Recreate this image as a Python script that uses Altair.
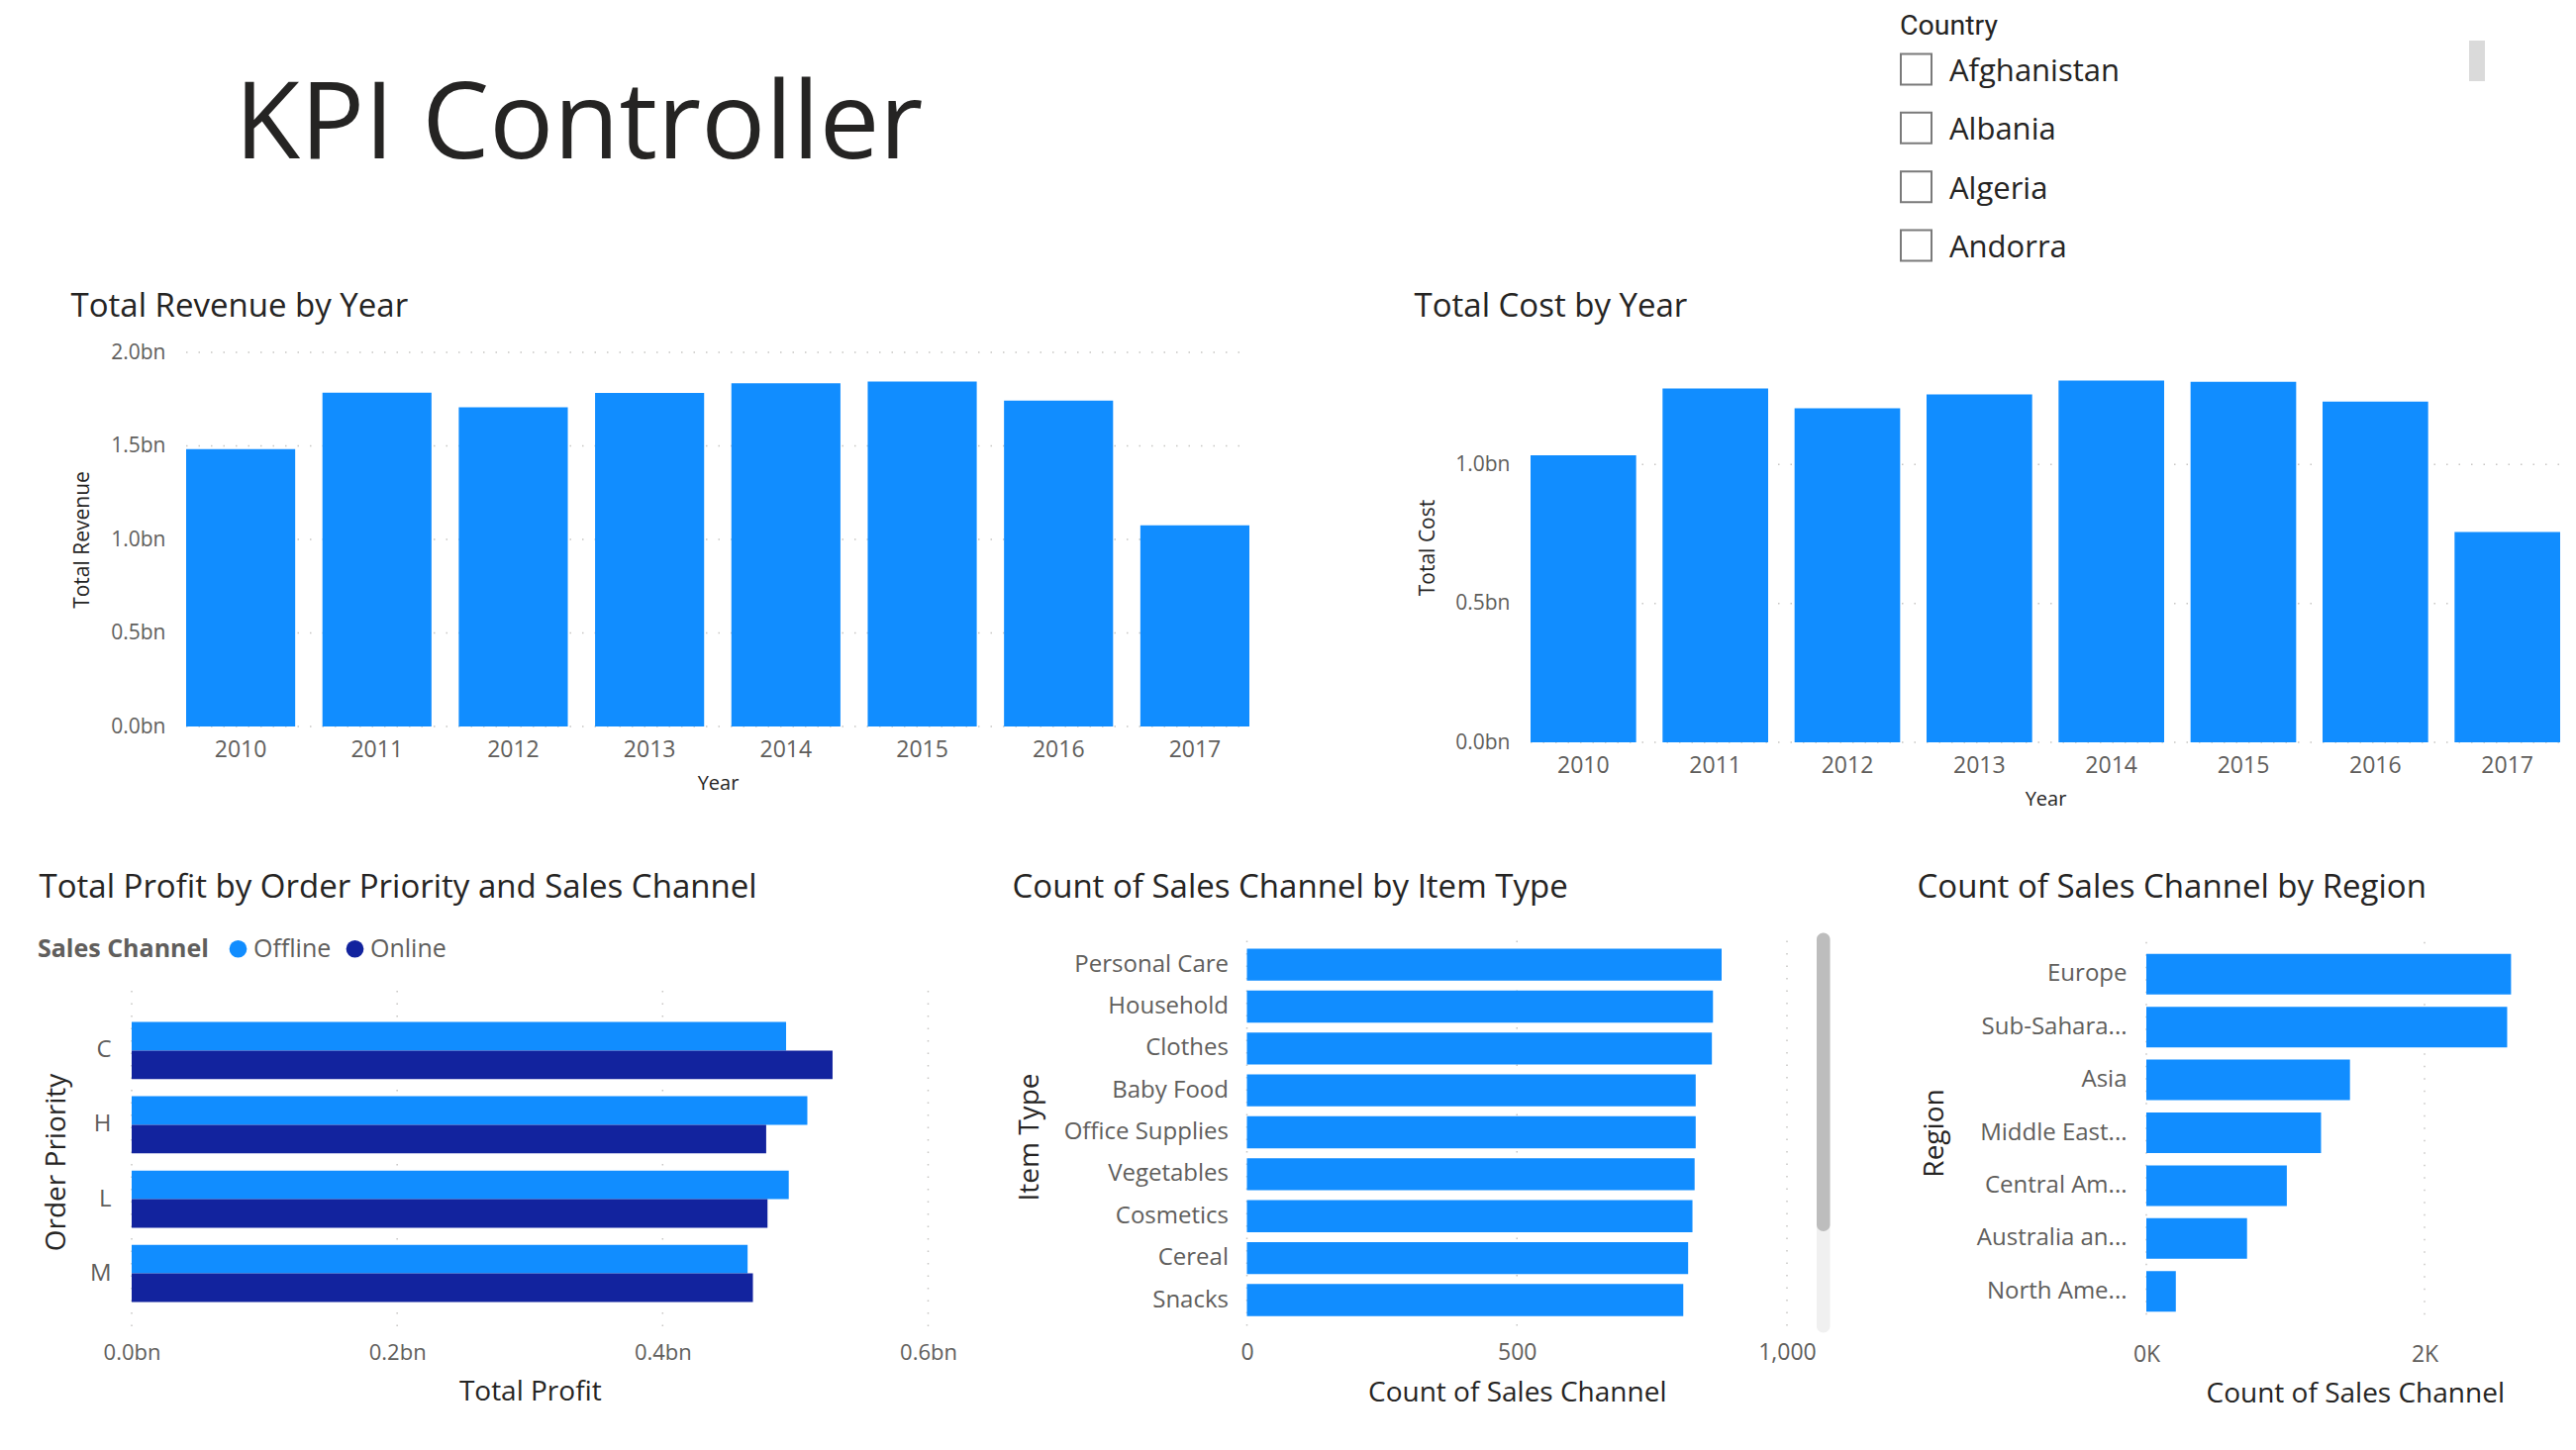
import altair as alt
import pandas as pd

SEG = "Open Sans"
DIN = "Open Sans"
DARK = "#252423"
GRAY = "#605E5C"
BLUE = "#118DFF"
NAVY = "#12239E"
GRID = "#C8C6C4"
W, H = 2586, 1449

# ---------------- data ----------------
years = ["2010", "2011", "2012", "2013", "2014", "2015", "2016", "2017"]
revenue_bn = [1.483, 1.785, 1.706, 1.783, 1.835, 1.844, 1.742, 1.075]
cost_bn = [1.033, 1.274, 1.202, 1.252, 1.302, 1.298, 1.226, 0.757]
revenue_ticks = [0, 0.5, 1.0, 1.5, 2.0]
cost_ticks = [0, 0.5, 1.0]

priorities = ["C", "H", "L", "M"]
channels = ["Offline", "Online"]
profit_offline_bn = [0.493, 0.509, 0.495, 0.464]
profit_online_bn = [0.528, 0.478, 0.479, 0.468]
profit_ticks = [0, 0.2, 0.4, 0.6]

item_types = ["Personal Care", "Household", "Clothes", "Baby Food", "Office Supplies",
              "Vegetables", "Cosmetics", "Cereal", "Snacks"]
item_counts = [879, 863, 861, 831, 831, 829, 825, 817, 808]
item_ticks = [0, 500, 1000]

regions = ["Europe", "Sub-Sahara...", "Asia", "Middle East...", "Central Am...",
           "Australia an...", "North Ame..."]
region_counts = [2622, 2594, 1464, 1256, 1010, 724, 212]
region_ticks = [0, 2000]

countries = ["Afghanistan", "Albania", "Algeria", "Andorra"]

rev_df = pd.DataFrame({"Year": years, "Total Revenue": revenue_bn})
cost_df = pd.DataFrame({"Year": years, "Total Cost": cost_bn})
profit_df = pd.DataFrame({
    "Order Priority": priorities * 2,
    "Sales Channel": ["Offline"] * 4 + ["Online"] * 4,
    "Total Profit": profit_offline_bn + profit_online_bn,
})
item_df = pd.DataFrame({"Item Type": item_types, "Count of Sales Channel": item_counts})
region_df = pd.DataFrame({"Region": regions, "Count of Sales Channel": region_counts})
country_df = pd.DataFrame({"Country": countries})
one = pd.DataFrame({"k": [0]})

NO_LINE = dict(domain=False, ticks=False, tickSize=0, grid=False)
RULE = dict(color=GRID, strokeDash=[1.5, 11], strokeWidth=1.5)


def text_at(text, x, y, font, size, color=DARK, weight="normal"):
    return alt.Chart(one).mark_text(
        text=text, align="left", baseline="alphabetic", font=font, fontSize=size,
        fontWeight=weight, color=color).encode(x=alt.value(x), y=alt.value(y))


def bn_y_axis(title, left, title_x, values):
    return alt.Axis(orient="left", title=title, values=values, offset=-left,
                    labelExpr="format(datum.value, '.1f') + 'bn'",
                    labelPadding=21, labelFont=SEG, labelFontSize=21, labelColor=GRAY,
                    labelFlush=False,
                    titleFont=SEG, titleFontSize=21, titleFontWeight="normal",
                    titleColor=DARK, titleX=title_x, titleBaseline="alphabetic",
                    **NO_LINE)


def year_axis(bottom, title_y, pad):
    return alt.Axis(orient="bottom", title="Year", labelAngle=0, offset=bottom - H,
                    labelPadding=pad, labelBaseline="alphabetic",
                    labelFont=SEG, labelFontSize=23, labelColor=GRAY,
                    titleFont=DIN, titleFontSize=20, titleFontWeight="normal",
                    titleColor=DARK, titleY=title_y, titleBaseline="alphabetic",
                    **NO_LINE)


def cat_y_axis(title, left, title_x, pad, size):
    return alt.Axis(orient="left", title=title, offset=-left, labelPadding=pad,
                    labelFont=SEG, labelFontSize=size, labelColor=GRAY,
                    labelLimit=300, titleFont=SEG, titleFontSize=28,
                    titleFontWeight="normal", titleColor=DARK, titleX=title_x,
                    titleBaseline="alphabetic", **NO_LINE)


def val_x_axis(title, values, bottom, pad, title_y, size, label_expr, title_size=28):
    return alt.Axis(orient="bottom", title=title, values=values, offset=bottom - H,
                    labelPadding=pad, labelBaseline="alphabetic", labelFont=SEG,
                    labelFontSize=size, labelColor=GRAY, labelExpr=label_expr,
                    labelFlush=False, labelOverlap=False,
                    titleFont=DIN, titleFontSize=title_size, titleFontWeight="normal",
                    titleColor=DARK, titleY=title_y, titleBaseline="alphabetic",
                    **NO_LINE)


def h_grid(field, ticks, scale, axis, x0, x1):
    return alt.Chart(pd.DataFrame({field: ticks})).mark_rule(**RULE).encode(
        y=alt.Y(f"{field}:Q", scale=scale, axis=axis),
        x=alt.value(x0), x2=alt.value(x1))


def v_grid(field, ticks, scale, axis, y0, y1):
    return alt.Chart(pd.DataFrame({field: ticks})).mark_rule(**RULE).encode(
        x=alt.X(f"{field}:Q", scale=scale, axis=axis),
        y=alt.value(y0), y2=alt.value(y1))


# ---------------- header ----------------
hdr_title = text_at("KPI Controller", 229, 152, SEG, 108)
country_title = text_at("Country", 1911, 27, "Roboto", 28.5)
cy = alt.Y("Country:N", sort=countries, axis=None,
           scale=alt.Scale(type="point", range=[62, 240], padding=0))
boxes = alt.Chart(country_df).mark_square(
    size=961, filled=False, color="#7A7A7A", strokeWidth=2, opacity=1
).encode(x=alt.value(1927.5), y=cy)
names = alt.Chart(country_df).mark_text(
    align="left", baseline="middle", dy=3, font=SEG, fontSize=31, color=DARK
).encode(x=alt.value(1961), y=cy, text="Country:N")
slicer_scroll = alt.Chart(one).mark_rect(color="#DADADA").encode(
    x=alt.value(2486), x2=alt.value(2502), y=alt.value(33), y2=alt.value(74))

# ---------------- revenue ----------------
rev_y_scale = alt.Scale(domain=[0, 2.0], range=[726, 348], nice=False)
rev_y_axis = bn_y_axis("Total Revenue", 180, -98.7, revenue_ticks)
revenue = alt.layer(
    h_grid("Total Revenue", revenue_ticks, rev_y_scale, rev_y_axis, 180, 1254),
    alt.Chart(rev_df).mark_bar(color=BLUE).encode(
        x=alt.X("Year:N", sort=years,
                scale=alt.Scale(range=[180, 1254], paddingInner=0.2, paddingOuter=0),
                axis=year_axis(726, 63.5, 30)),
        y=alt.Y("Total Revenue:Q", scale=rev_y_scale, axis=rev_y_axis),
    ),
)
rev_title = text_at("Total Revenue by Year", 63.5, 311.5, DIN, 33)

# ---------------- cost ----------------
cost_y_scale = alt.Scale(domain=[0, 1.4036], range=[742, 348], nice=False)
cost_y_axis = bn_y_axis("Total Cost", 1538, -98, cost_ticks)
cost = alt.layer(
    h_grid("Total Cost", cost_ticks, cost_y_scale, cost_y_axis, 1538, 2578),
    alt.Chart(cost_df).mark_bar(color=BLUE).encode(
        x=alt.X("Year:N", sort=years,
                scale=alt.Scale(range=[1538, 2578], paddingInner=0.2, paddingOuter=0),
                axis=year_axis(742, 63.5, 30)),
        y=alt.Y("Total Cost:Q", scale=cost_y_scale, axis=cost_y_axis),
    ),
)
cost_title = text_at("Total Cost by Year", 1420.5, 311.5, DIN, 33)

# ---------------- profit ----------------
profit_x_scale = alt.Scale(domain=[0, 0.6], range=[125, 929.5], nice=False)
profit_x_axis = val_x_axis("Total Profit", profit_ticks, 1339, 26.5, 67.5, 22,
                           "format(datum.value, '.1f') + 'bn'")
profit = alt.layer(
    v_grid("Total Profit", profit_ticks, profit_x_scale, profit_x_axis, 993, 1339),
    alt.Chart(profit_df).mark_bar().encode(
        x=alt.X("Total Profit:Q", scale=profit_x_scale, axis=profit_x_axis),
        y=alt.Y("Order Priority:N", sort=priorities,
                scale=alt.Scale(range=[993, 1339], paddingInner=0.23, paddingOuter=0.42),
                axis=cat_y_axis("Order Priority", 125, -68, 21, 24)),
        yOffset=alt.YOffset("Sales Channel:N", sort=channels),
        color=alt.Color("Sales Channel:N", sort=channels,
                        scale=alt.Scale(domain=channels, range=[BLUE, NAVY]),
                        legend=alt.Legend(orient="none", legendX=30, legendY=938,
                                          direction="horizontal", title="Sales Channel",
                                          titleOrient="left", titleFont=DIN,
                                          titleFontSize=25, titleFontWeight="bold",
                                          titleColor=GRAY, titlePadding=17,
                                          labelFont=SEG, labelFontSize=25,
                                          labelColor=GRAY, symbolType="circle",
                                          symbolSize=314, symbolStrokeWidth=0,
                                          labelOffset=3, columnPadding=11)),
    ),
)
profit_title = text_at("Total Profit by Order Priority and Sales Channel", 31.5, 899, DIN, 33)

# ---------------- item type ----------------
item_x_scale = alt.Scale(domain=[0, 1000], range=[1251.5, 1797], nice=False)
item_x_axis = val_x_axis("Count of Sales Channel", item_ticks, 1339, 26, 68, 23,
                         "format(datum.value, ',')")
item = alt.layer(
    v_grid("Count of Sales Channel", item_ticks, item_x_scale, item_x_axis, 942.5, 1338.6),
    alt.Chart(item_df).mark_bar(color=BLUE).encode(
        x=alt.X("Count of Sales Channel:Q", scale=item_x_scale, axis=item_x_axis),
        y=alt.Y("Item Type:N", sort=item_types,
                scale=alt.Scale(range=[942, 1339], paddingInner=0.236,
                                paddingOuter=0.303, align=0.327),
                axis=cat_y_axis("Item Type", 1251.5, -211, 19, 24)),
    ),
)
track = alt.Chart(one).mark_rect(color="#F0F0F0", cornerRadius=7).encode(
    x=alt.value(1827), x2=alt.value(1840.5), y=alt.value(934.6), y2=alt.value(1338.6))
thumb = alt.Chart(one).mark_rect(color="#BDBDBD", cornerRadius=7).encode(
    x=alt.value(1827), x2=alt.value(1840.5), y=alt.value(934.6), y2=alt.value(1236))
item_title = text_at("Count of Sales Channel by Item Type", 1014.5, 899, DIN, 33)

# ---------------- region ----------------
region_x_scale = alt.Scale(domain=[0, 3000], range=[2160, 2581.5], nice=False)
region_x_axis = val_x_axis("Count of Sales Channel", region_ticks, 1329, 38, 79.5, 23,
                           "format(datum.value / 1000, '.0f') + 'K'")
region = alt.layer(
    v_grid("Count of Sales Channel", region_ticks, region_x_scale, region_x_axis,
           943.7, 1328.8),
    alt.Chart(region_df).mark_bar(color=BLUE).encode(
        x=alt.X("Count of Sales Channel:Q", scale=region_x_scale, axis=region_x_axis),
        y=alt.Y("Region:N", sort=regions,
                scale=alt.Scale(range=[944, 1329], paddingInner=0.232,
                                paddingOuter=0.222),
                axis=cat_y_axis("Region", 2160, -205.7, 20, 24)),
    ),
)
region_title = text_at("Count of Sales Channel by Region", 1928.5, 899, DIN, 33)

chart = alt.layer(
    hdr_title, country_title, boxes, names, slicer_scroll,
    revenue, rev_title, cost, cost_title,
    profit, profit_title, track, thumb, item, item_title, region, region_title,
).resolve_scale(
    x="independent", y="independent", color="independent"
).properties(
    width=W, height=H, padding=0, background="white"
).configure_view(strokeWidth=0)

chart.save("out.html", embed_options={"renderer": "svg", "actions": False})
